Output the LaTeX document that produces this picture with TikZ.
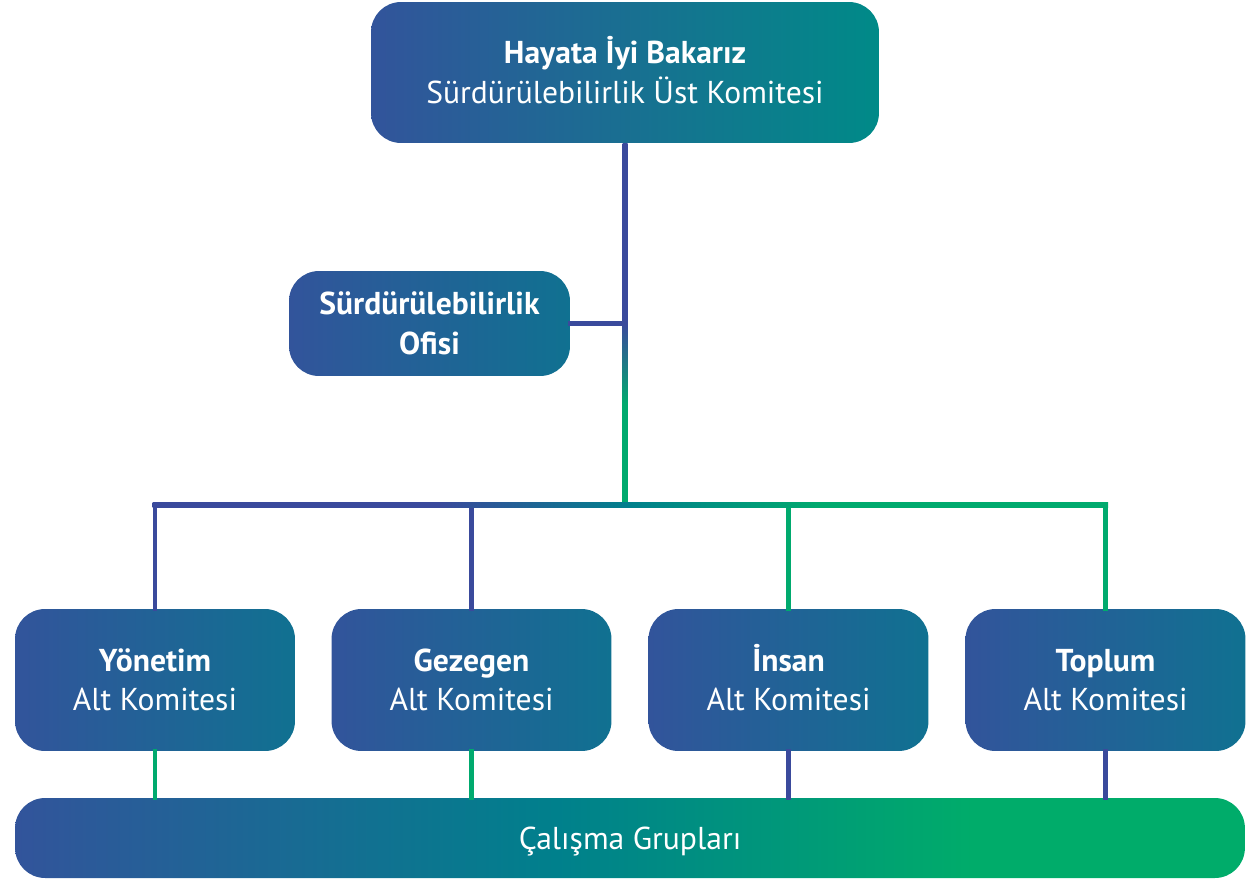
\documentclass[tikz,border=0pt]{standalone}
\usepackage{fontspec}
\setmainfont{PT Sans}
\usetikzlibrary{calc}

\definecolor{hbBlue}{RGB}{50,84,155}
\definecolor{hbTeal}{RGB}{0,138,136}
\definecolor{hbMid}{RGB}{16,113,145}
\definecolor{barTeal}{RGB}{0,128,140}
\definecolor{hbGreen}{RGB}{0,172,106}
\definecolor{lnBlue}{RGB}{58,74,156}
\definecolor{lnGreen}{RGB}{0,170,110}

\pgfdeclareverticalshading{trunkshade}{100bp}{color(0bp)=(lnGreen); color(39bp)=(lnGreen); color(50bp)=(lnBlue); color(100bp)=(lnBlue)}
\pgfdeclarehorizontalshading{busshade}{100bp}{color(0bp)=(lnBlue); color(40bp)=(lnBlue); color(50bp)=(barTeal); color(60bp)=(lnGreen); color(100bp)=(lnGreen)}
\pgfdeclarehorizontalshading{barshade}{100bp}{color(0bp)=(hbBlue); color(25bp)=(hbBlue); color(47bp)=(barTeal); color(64bp)=(hbGreen); color(100bp)=(hbGreen)}

\newcommand\topstrut{\rule{0pt}{19.2pt}}

\tikzset{
  box/.style={rounded corners=0.6cm, text=white, align=center,
    font=\fontsize{18}{22.5}\selectfont, inner sep=0pt},
  topbox/.style={box, left color=hbBlue, right color=hbTeal,
    minimum width=10.16cm, minimum height=2.82cm},
  subbox/.style={box, left color=hbBlue, right color=hbMid,
    minimum width=5.6cm, minimum height=2.84cm},
  conn/.style={line width=2.8pt, line cap=rect}
}

\begin{document}
\begin{tikzpicture}[x=0.02cm, y=-0.02cm]

\useasboundingbox (0,0) rectangle (1254,879);

% boxes
\node[topbox] (top) at (625,72.5) {\topstrut\textbf{Hayata \smash{İ}yi Bakarız}\\\strut Sürdürülebilirlik Üst Komitesi};
\node[subbox, minimum width=5.62cm, minimum height=2.1cm] (ofis) at (429.5,323.5) {\topstrut\textbf{Sürdürülebilirlik}\\\strut\textbf{Ofisi}};

\node[subbox] (yonetim) at (155,680) {\topstrut\textbf{Yönetim}\\\strut Alt Komitesi};
\node[subbox] (gezegen) at (471.5,680) {\topstrut\textbf{Gezegen}\\\strut Alt Komitesi};
\node[subbox] (insan) at (788.5,680) {\topstrut\textbf{\smash{İ}nsan}\\\strut Alt Komitesi};
\node[subbox] (toplum) at (1105.5,680) {\topstrut\textbf{Toplum}\\\strut Alt Komitesi};

\node[box, shading=barshade, text depth=0pt, minimum width=24.6cm, minimum height=1.6cm] (calisma) at (630,838) {Çalışma Grupları};

\coordinate (jBus) at ($(top.south)+(0,362)$);
\coordinate (jOff) at (top.south |- ofis.east);

% lines
\draw[conn, lnBlue] (ofis.east) -- (jOff);
\shade[shading=trunkshade] ($(top.south)+(-2.5,0)$) rectangle ($(jBus)+(2.5,0)$);

\draw[conn, lnBlue] (yonetim.north) -- (yonetim.north |- jBus);
\draw[conn, lnBlue] (gezegen.north) -- (gezegen.north |- jBus);
\draw[conn, lnGreen] (insan.north) -- (insan.north |- jBus);
\draw[conn, lnGreen] (toplum.north) -- (toplum.north |- jBus);
\shade[shading=busshade] ($(yonetim.north |- jBus)+(-2.5,-2.5)$) rectangle ($(toplum.north |- jBus)+(2.5,2.5)$);

\draw[conn, lnGreen] (yonetim.south) -- (yonetim.south |- calisma.north);
\draw[conn, lnGreen] (gezegen.south) -- (gezegen.south |- calisma.north);
\draw[conn, lnBlue] (insan.south) -- (insan.south |- calisma.north);
\draw[conn, lnBlue] (toplum.south) -- (toplum.south |- calisma.north);

\end{tikzpicture}
\end{document}
